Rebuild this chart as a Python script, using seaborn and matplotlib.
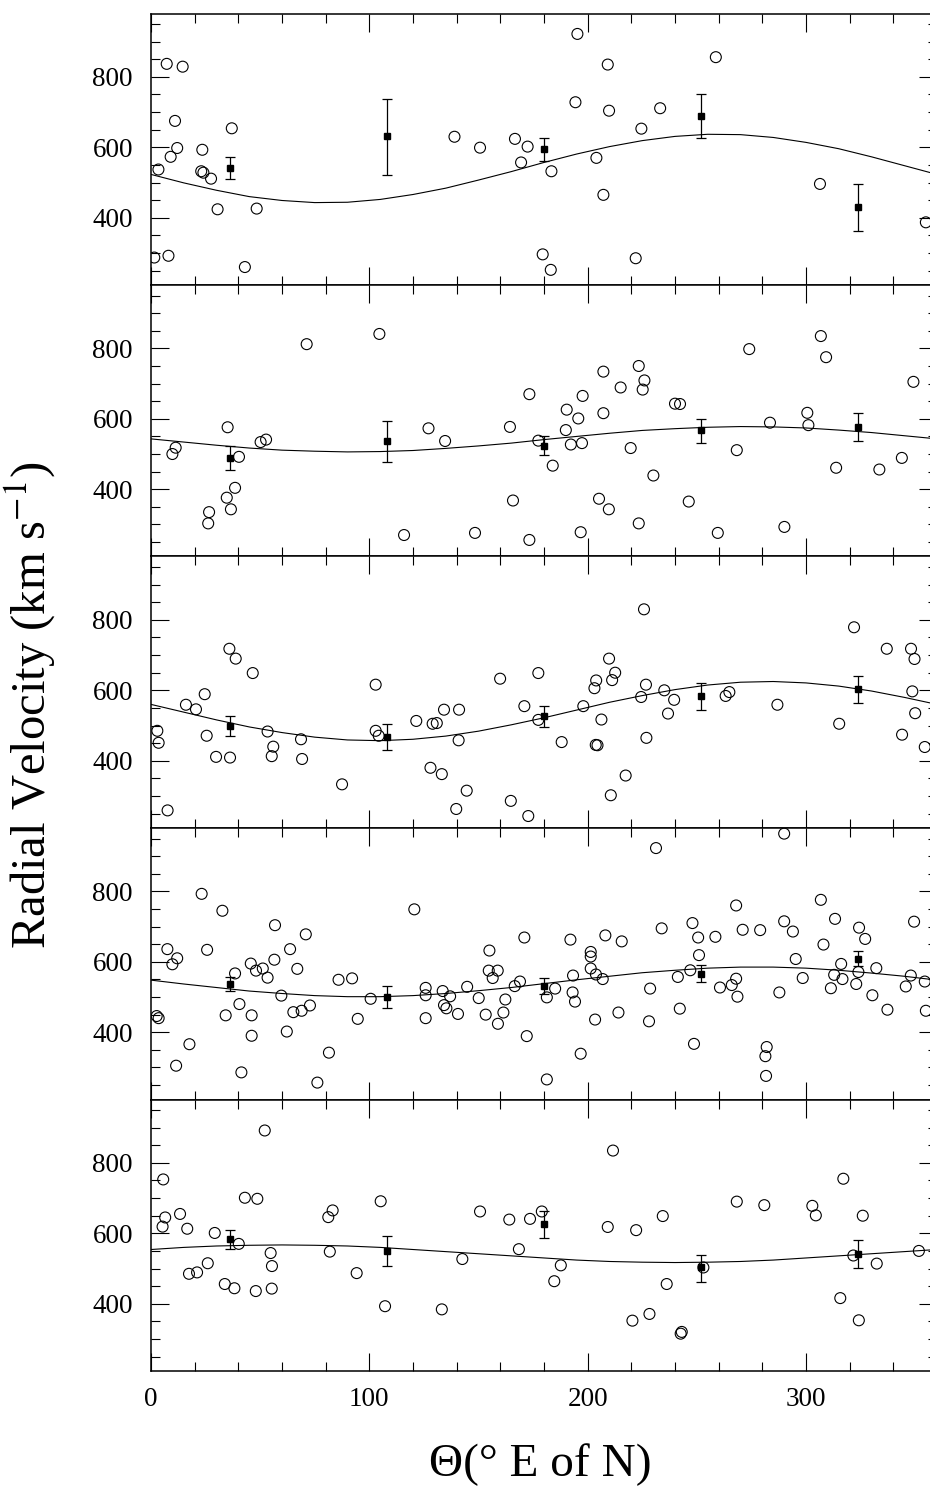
import matplotlib
matplotlib.use("Agg")
import matplotlib.pyplot as plt
from matplotlib.ticker import MultipleLocator
import seaborn as sns

# open circles: individual velocities, one pair of lists per panel (top to bottom)
p1_theta = [7.2, 14.5, 11.0, 37.0, 12.0, 23.5, 9.0, 3.4, 23.0, 24.0, 27.5, 30.5, 48.4, 1.5, 8.0, 43.0,
            139.0, 150.7, 166.7, 172.5, 169.5, 179.4, 183.1, 183.4, 194.4, 195.3, 204.0, 207.2, 209.2,
            209.8, 222.0, 224.6, 233.2, 258.7, 306.4, 354.9]
p1_vel = [837, 829, 675, 654, 598, 593, 573, 537, 532, 528, 511, 424, 426, 287, 292, 260,
          630, 599, 624, 602, 557, 296, 252, 532, 728, 922, 570, 465, 835,
          704, 285, 653, 711, 856, 496, 387]

p2_theta = [9.8, 11.3, 26.2, 26.6, 34.7, 35.1, 36.6, 38.5, 40.3, 50.2, 52.7, 71.3, 104.6, 115.9, 127.1,
            134.7, 148.4, 164.4, 165.8, 173.3, 173.3, 177.4, 184.0, 190.0, 190.4, 192.3, 195.7, 196.8,
            197.4, 197.7, 205.2, 207.2, 207.2, 209.7, 215.1, 219.7, 223.4, 223.4, 225.2, 226.0, 230.1,
            240.0, 242.3, 246.3, 259.6, 268.3, 274.0, 283.5, 290.1, 300.6, 301.1, 306.8, 309.2, 313.8,
            333.6, 343.9, 349.2]
p2_vel = [500, 518, 303, 335, 376, 576, 343, 404, 492, 534, 541, 812, 841, 270, 573,
          537, 276, 577, 368, 670, 256, 538, 467, 568, 626, 527, 601, 278,
          531, 665, 373, 734, 616, 343, 689, 517, 750, 303, 683, 709, 439,
          643, 642, 365, 276, 511, 798, 589, 293, 617, 582, 835, 775, 461,
          456, 489, 705]

p3_theta = [2.9, 3.5, 7.6, 16.0, 20.6, 24.6, 25.5, 29.8, 35.9, 36.2, 38.8, 46.6, 53.4, 55.3, 56.0, 68.7,
            69.2, 87.5, 102.9, 102.9, 104.3, 121.5, 128.0, 129.0, 130.9, 133.2, 134.2, 139.8, 140.9,
            141.1, 144.6, 159.9, 164.8, 171.0, 172.8, 177.4, 177.4, 188.1, 198.0, 203.1, 203.7, 204.5,
            203.9, 206.3, 209.8, 210.6, 211.2, 212.6, 217.4, 224.5, 225.8, 226.7, 226.9, 235.1, 236.8,
            239.6, 263.2, 264.9, 286.9, 315.2, 322.0, 337.0, 344.0, 348.1, 348.7, 349.7, 350.0, 354.4]
p3_vel = [485, 451, 259, 559, 546, 589, 471, 411, 718, 409, 690, 649, 483, 413, 440, 461,
          405, 333, 616, 485, 471, 513, 380, 505, 507, 362, 545, 263, 458,
          545, 315, 633, 286, 555, 243, 649, 516, 453, 555, 606, 445, 444,
          628, 517, 690, 302, 629, 650, 358, 581, 830, 616, 465, 600, 534,
          573, 584, 595, 559, 505, 779, 718, 474, 718, 597, 689, 535, 439]

p4_theta = [2.6, 3.5, 7.5, 9.8, 11.5, 12.0, 17.6, 23.2, 25.7, 32.7, 34.2, 38.5, 40.5, 41.4, 45.7, 46.1,
            46.1, 48.1, 51.2, 53.4, 56.5, 56.8, 59.7, 62.2, 63.7, 65.2, 67.0, 69.0, 70.9, 72.8, 76.2,
            81.5, 85.9, 92.1, 94.7, 100.6, 120.6, 125.8, 125.8, 125.8, 133.6, 134.2, 135.3, 137.0,
            140.6, 144.8, 150.1, 153.3, 154.7, 155.0, 156.5, 158.8, 158.9, 161.4, 162.3, 166.6, 169.0,
            171.0, 172.1, 181.3, 181.3, 185.1, 192.1, 193.1, 193.3, 194.2, 196.8, 201.4, 201.4, 201.4,
            203.4, 203.8, 206.9, 208.1, 214.1, 215.6, 228.1, 228.6, 231.3, 233.9, 241.3, 242.2, 247.0,
            248.0, 248.7, 250.6, 251.0, 258.5, 260.6, 266.0, 268.0, 268.0, 268.6, 271.0, 279.0, 281.4,
            281.7, 282.0, 287.8, 290.0, 290.0, 294.0, 295.3, 298.5, 306.8, 308.0, 311.4, 312.9, 313.3,
            316.1, 316.7, 323.0, 324.0, 324.3, 327.1, 330.4, 332.2, 337.3, 345.7, 348.0, 349.5, 354.4,
            354.9]
p4_vel = [446, 440, 636, 593, 305, 610, 366, 793, 634, 745, 448, 567, 480, 286, 595, 448,
          390, 575, 581, 555, 606, 704, 504, 402, 636, 457, 580, 461, 678, 476, 257,
          342, 549, 553, 438, 495, 749, 526, 505, 440, 517, 477, 468, 502,
          452, 529, 497, 450, 575, 632, 554, 575, 424, 456, 493, 531, 544,
          669, 389, 499, 266, 524, 663, 513, 561, 487, 339, 628, 615, 581,
          436, 564, 551, 675, 456, 658, 431, 524, 923, 695, 557, 467, 576,
          710, 367, 669, 619, 671, 527, 534, 760, 552, 501, 691, 690, 332,
          276, 358, 513, 964, 715, 686, 608, 554, 776, 649, 525, 563, 722,
          594, 551, 537, 571, 697, 665, 505, 582, 464, 530, 561, 714, 544,
          461]

p5_theta = [5.3, 5.6, 6.5, 13.3, 16.6, 17.4, 21.1, 26.0, 29.2, 33.8, 38.2, 40.2, 43.0, 48.0, 48.7, 52.1,
            54.8, 55.3, 55.4, 81.2, 81.9, 83.2, 94.2, 105.2, 107.2, 133.2, 142.6, 150.7, 164.1, 168.5,
            173.6, 179.0, 184.7, 187.7, 209.2, 211.6, 220.5, 222.2, 228.3, 234.4, 236.2, 242.6, 243.1,
            253.0, 268.3, 280.9, 302.9, 304.5, 315.7, 317.1, 321.7, 324.2, 326.0, 332.4, 351.7]
p5_vel = [619, 753, 645, 655, 613, 485, 489, 515, 601, 456, 444, 570, 701, 436, 698, 892,
          544, 443, 507, 646, 548, 665, 487, 691, 393, 384, 527, 662, 639, 555,
          641, 662, 464, 509, 618, 835, 352, 609, 371, 649, 456, 315, 320,
          503, 690, 680, 678, 651, 416, 755, 537, 353, 650, 514, 550]

# binned means (filled squares) with the ends of their error bars
bin_theta = [36, 108, 180, 252, 324]
p1_bin, p1_lo, p1_hi = [542, 631, 594, 688, 430], [511, 522, 560, 626, 362], [572, 738, 627, 752, 496]
p2_bin, p2_lo, p2_hi = [488, 536, 523, 567, 578], [455, 476, 496, 531, 537], [523, 594, 551, 600, 616]
p3_bin, p3_lo, p3_hi = [499, 468, 527, 585, 603], [471, 431, 497, 545, 564], [527, 504, 555, 621, 640]
p4_bin, p4_lo, p4_hi = [536, 500, 531, 565, 608], [517, 469, 509, 542, 589], [558, 530, 553, 591, 630]
p5_bin, p5_lo, p5_hi = [584, 550, 626, 503, 542], [556, 508, 586, 463, 501], [608, 591, 664, 539, 582]

# fitted sinusoid every 15 degrees
curve_theta = [0, 15, 30, 45, 60, 75, 90, 105, 120, 135, 150, 165, 180,
               195, 210, 225, 240, 255, 270, 285, 300, 315, 330, 345, 360]
p1_curve = [523, 499, 478, 460, 449, 443, 444, 452, 466, 484, 507, 531, 557,
            581, 602, 619, 631, 637, 636, 628, 614, 596, 573, 548, 523]
p2_curve = [543, 534, 525, 517, 511, 508, 506, 507, 510, 516, 523, 531, 541,
            550, 559, 567, 572, 576, 578, 577, 574, 568, 561, 552, 543]
p3_curve = [560, 538, 516, 496, 480, 467, 459, 457, 461, 470, 484, 502, 522,
            544, 566, 585, 602, 615, 623, 625, 621, 612, 598, 580, 560]
p4_curve = [548, 537, 527, 517, 510, 504, 501, 501, 504, 510, 518, 527, 538,
            549, 559, 569, 576, 582, 585, 585, 582, 576, 568, 559, 548]
p5_curve = [554, 560, 564, 566, 567, 566, 564, 560, 554, 548, 542, 536, 530,
            524, 520, 518, 517, 518, 520, 524, 530, 536, 542, 548, 554]

panels = [
    (p1_theta, p1_vel, p1_bin, p1_lo, p1_hi, p1_curve),
    (p2_theta, p2_vel, p2_bin, p2_lo, p2_hi, p2_curve),
    (p3_theta, p3_vel, p3_bin, p3_lo, p3_hi, p3_curve),
    (p4_theta, p4_vel, p4_bin, p4_lo, p4_hi, p4_curve),
    (p5_theta, p5_vel, p5_bin, p5_lo, p5_hi, p5_curve),
]

sns.set_theme(style="ticks")
plt.rcParams["font.family"] = ["Liberation Serif", "DejaVu Serif"]
plt.rcParams["mathtext.fontset"] = "stix"
plt.rcParams["text.color"] = "black"
plt.rcParams["xtick.color"] = "black"
plt.rcParams["ytick.color"] = "black"
plt.rcParams["xtick.labelcolor"] = "black"
plt.rcParams["ytick.labelcolor"] = "black"

W, H = 930, 1487
fig = plt.figure(figsize=(W / 100, H / 100), dpi=100)
gs = fig.add_gridspec(5, 1, left=151 / W, right=937 / W, top=1 - 13.5 / H, bottom=1 - 1371 / H, hspace=0)

for i, (th, v, b, lo, hi, cv) in enumerate(panels):
    ax = fig.add_subplot(gs[i])
    sns.lineplot(x=curve_theta, y=cv, ax=ax, color="black", lw=0.8, estimator=None, sort=False)
    sns.scatterplot(x=th, y=v, ax=ax, marker="o", s=62, facecolors="none",
                    edgecolors="black", linewidths=0.8, zorder=3)
    yerr = [[m - l for m, l in zip(b, lo)], [h - m for m, h in zip(b, hi)]]
    ax.errorbar(bin_theta, b, yerr=yerr, fmt="s", ms=5, color="black",
                elinewidth=0.9, capsize=3.6, capthick=0.9, zorder=4)
    ax.set_xlim(0, 360)
    ax.set_ylim(209, 980)
    ax.xaxis.set_major_locator(MultipleLocator(100))
    ax.xaxis.set_minor_locator(MultipleLocator(20))
    ax.yaxis.set_major_locator(MultipleLocator(200))
    ax.yaxis.set_minor_locator(MultipleLocator(50))
    ax.tick_params(which="both", direction="in", top=True, right=True, color="black",
                   labelcolor="black", width=0.8)
    ax.tick_params(which="major", length=13)
    ax.tick_params(which="minor", length=6.5)
    ax.tick_params(axis="y", labelsize=19.5, pad=13)
    ax.tick_params(axis="x", labelsize=19.5, pad=11.5, labelbottom=(i == 4))
    for sp in ax.spines.values():
        sp.set_linewidth(1.1)
        sp.set_color("black")
    ax.set_xlabel("")
    ax.set_ylabel("")

fig.text(30 / W, 1 - 705 / H, "Radial Velocity (km s$^{-1}$)", rotation=90,
         ha="center", va="center", fontsize=35, color="black")
fig.text(540 / W, 1 - 1465 / H, "Θ(° E of N)", ha="center", va="center", fontsize=34, color="black")

fig.savefig("out.png", dpi=100)
